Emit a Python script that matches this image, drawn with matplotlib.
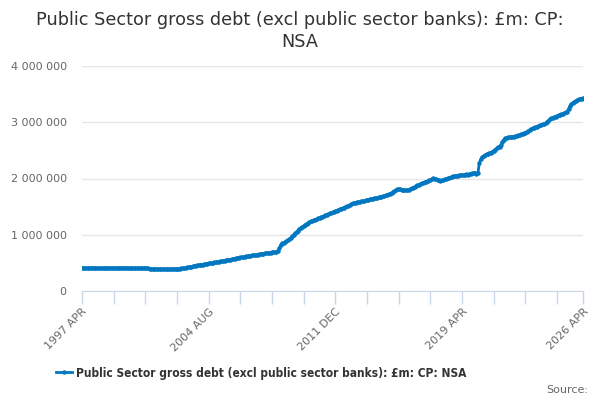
import matplotlib
matplotlib.use("Agg")
import matplotlib.pyplot as plt
import numpy as np
import pandas as pd

# Monthly values, 1997 APR to 2026 APR, in £bn
debt_bn = [
    # 1997 Apr-Dec
    408, 412, 410, 406, 411, 409, 413, 410, 407,
    # 1998
    410, 412, 405, 404, 408, 407, 404, 409, 406, 410, 408, 404,
    # 1999
    407, 410, 402, 404, 409, 406, 410, 412, 407, 405, 409, 411,
    # 2000
    406, 404, 401, 405, 408, 403, 407, 409, 404, 406, 408, 410,
    # 2001
    407, 401, 396, 393, 390, 392, 395, 391, 388, 390, 393, 389,
    # 2002
    387, 391, 389, 386, 390, 388, 392, 390, 394, 397, 395, 400,
    # 2003
    402, 405, 408, 412, 418, 423, 428, 432, 437, 443, 448, 455,
    # 2004
    458, 462, 466, 471, 477, 482, 486, 490, 495, 499, 503, 507,
    # 2005
    511, 516, 520, 526, 531, 535, 540, 546, 551, 556, 560, 566,
    # 2006
    570, 575, 581, 586, 590, 596, 601, 606, 610, 614, 619, 624,
    # 2007
    628, 632, 636, 640, 645, 648, 652, 656, 660, 664, 668, 672,
    # 2008
    675, 679, 683, 686, 690, 694, 700, 712, 760, 820, 845, 855,
    # 2009
    868, 885, 900, 920, 945, 975, 1000, 1025, 1050, 1075, 1105, 1125,
    # 2010
    1140, 1160, 1178, 1195, 1210, 1225, 1240, 1252, 1262, 1270, 1280, 1290,
    # 2011
    1300, 1312, 1322, 1333, 1345, 1355, 1368, 1378, 1390, 1400, 1410, 1420,
    # 2012
    1430, 1440, 1452, 1462, 1472, 1482, 1494, 1505, 1515, 1530, 1545, 1558,
    # 2013
    1562, 1568, 1575, 1580, 1588, 1594, 1600, 1606, 1612, 1618, 1624, 1630,
    # 2014
    1636, 1642, 1647, 1654, 1660, 1666, 1672, 1680, 1686, 1692, 1700, 1707,
    # 2015
    1718, 1730, 1745, 1760, 1775, 1790, 1805, 1810, 1806, 1800, 1798, 1795,
    # 2016
    1792, 1796, 1800, 1812, 1825, 1840, 1852, 1865, 1878, 1890, 1900, 1912,
    # 2017
    1922, 1934, 1945, 1955, 1966, 1978, 1990, 2002, 1995, 1985, 1975, 1968,
    # 2018
    1962, 1970, 1978, 1986, 1994, 2002, 2010, 2018, 2026, 2038, 2044, 2048,
    # 2019
    2052, 2056, 2060, 2065, 2062, 2070, 2074, 2070, 2080, 2085, 2090, 2098,
    # 2020
    2104, 2082, 2090, 2280, 2340, 2380, 2400, 2415, 2430, 2440, 2450, 2462,
    # 2021
    2476, 2495, 2515, 2535, 2554, 2565, 2600, 2654, 2690, 2715, 2725, 2730,
    # 2022
    2735, 2738, 2742, 2746, 2750, 2758, 2765, 2772, 2785, 2795, 2805, 2815,
    # 2023
    2830, 2848, 2865, 2880, 2892, 2900, 2910, 2920, 2932, 2945, 2955, 2963,
    # 2024
    2970, 2985, 3005, 3030, 3055, 3068, 3080, 3090, 3100, 3112, 3125, 3135,
    # 2025
    3141, 3150, 3160, 3175, 3190, 3240, 3290, 3320, 3345, 3365, 3380, 3395,
    # 2026 Jan-Apr
    3405, 3413, 3422, 3432,
]

months = pd.period_range("1997-04", "2026-04", freq="M")
values = np.array(debt_bn) * 1000  # £m

series_name = "Public Sector gross debt (excl public sector banks): £m: CP: NSA"
title = "Public Sector gross debt (excl public sector banks): £m: CP:\nNSA"
y_ticks = [0, 1000000, 2000000, 3000000, 4000000]

blue = "#0077c0"
axis_col = "#ccd6eb"


def fmt(v):
    return f"{int(v):,}".replace(",", " ")


def main():
    fig = plt.figure(figsize=(6, 4), dpi=100)
    ax = fig.add_axes([82 / 600, 1 - 291 / 400, (583 - 82) / 600, (291 - 66) / 400])

    x = np.arange(len(months))
    ax.plot(x, values, color=blue, lw=2, marker="o", ms=2.2, label=series_name)

    ax.set_ylim(0, 4000000)
    ax.set_xlim(0, len(months) - 1)
    ax.set_yticks(y_ticks)
    ax.set_yticklabels([fmt(v) for v in y_ticks], color="#666666", fontsize=8)
    ax.tick_params(axis="y", length=0, pad=11)
    ax.grid(axis="y", color="#e6e6e6", lw=1)
    ax.set_axisbelow(True)

    # x ticks every 22 months, labels every 4th plus the end
    tick_pos = list(range(0, len(months) - 1, 22)) + [len(months) - 1]
    labels = []
    for p in tick_pos:
        if p % 88 == 0 or p == len(months) - 1:
            labels.append(months[p].strftime("%Y %b").upper())
        else:
            labels.append("")
    ax.set_xticks(tick_pos)
    ax.set_xticklabels(labels, rotation=45, ha="right", rotation_mode="anchor",
                       color="#666666", fontsize=8)
    ax.tick_params(axis="x", length=9, color=axis_col, width=1, pad=2)

    for s in ["top", "right", "left"]:
        ax.spines[s].set_visible(False)
    ax.spines["bottom"].set_color(axis_col)

    fig.text(0.5, 1 - 31 / 400, title, ha="center", va="center",
             fontsize=12.7, color="#333333", linespacing=1.25)

    fig.legend(loc="center left", bbox_to_anchor=(56 / 600, 1 - 373 / 400),
               frameon=False, handlelength=1.3, handletextpad=0.4,
               borderpad=0, borderaxespad=0,
               prop={"weight": "bold", "size": 8.6, "stretch": "condensed"},
               labelcolor="#333333")

    fig.text(588 / 600, 1 - 390 / 400, "Source:", ha="right", va="center",
             fontsize=8, color="#666666")

    fig.savefig("out.png", dpi=100)


if __name__ == "__main__":
    main()
